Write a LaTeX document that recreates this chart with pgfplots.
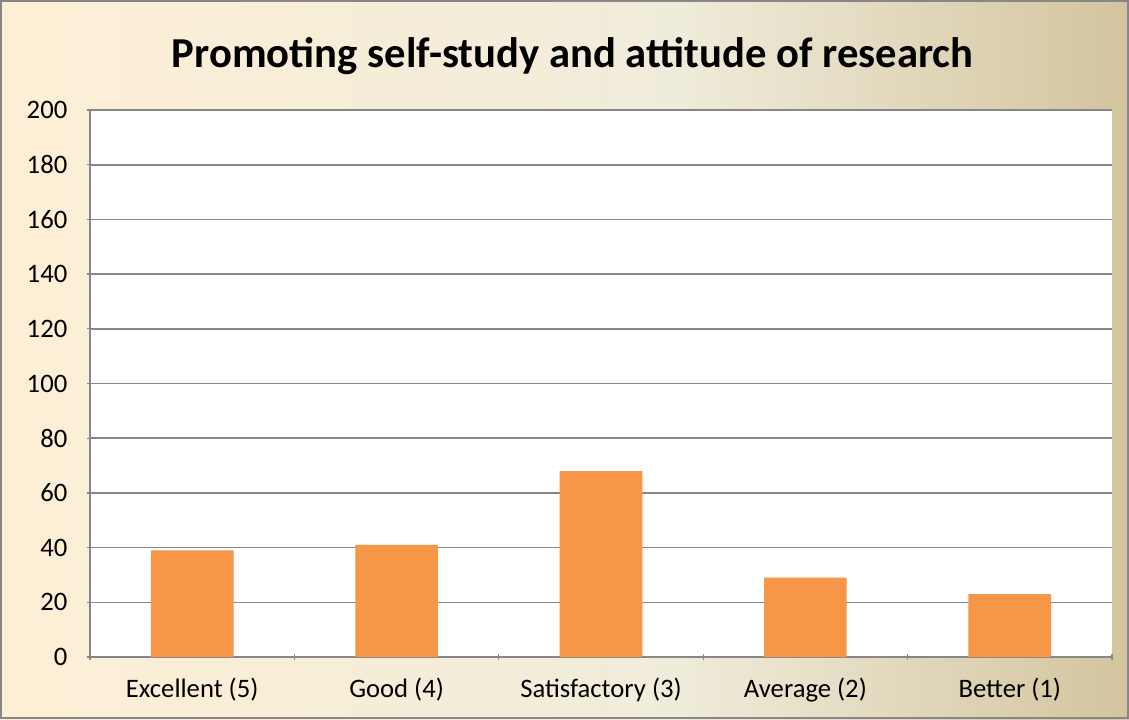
\documentclass[border=0pt]{standalone}
\usepackage{pgfplots}
\pgfplotsset{compat=1.18}
\usepackage{fontspec}
\setmainfont{Carlito}
\definecolor{barorange}{HTML}{F79646}
\definecolor{gridgray}{HTML}{878787}
\definecolor{bgleft}{HTML}{FDEFD6}
\definecolor{bgmid}{HTML}{F0ECDB}
\definecolor{bgright}{HTML}{D3C49E}
% the shaded box spans 25bp..75bp of the shading
\pgfdeclarehorizontalshading{chartbg}{100bp}{%
  color(0bp)=(bgleft); color(25bp)=(bgleft);
  color(37.5bp)=(bgleft!60!bgmid); color(55bp)=(bgmid);
  color(75bp)=(bgright); color(100bp)=(bgright)}

\begin{document}
\begin{tikzpicture}
  % chart background: 1129x719 px at 0.75pt per px
  \shade[shading=chartbg]
    (-67.5pt,-46.5pt) rectangle (779.25pt,492.75pt);
  \draw[gridgray, line width=1.2pt]
    (-66.9pt,-45.9pt) rectangle (778.65pt,492.15pt);
  \node[font=\bfseries\fontsize{32}{36}\selectfont, anchor=center]
    at (362pt,451pt) {Promoting self-study and attitude of research};

  \begin{axis}[
      at={(0,0)}, anchor=south west,
      scale only axis,
      width=766.5pt, height=410.25pt,
      axis background/.style={fill=white},
      ybar, bar width=62pt,
      xmin=-0.5, xmax=4.5,
      ymin=0, ymax=200,
      ytick={0,20,...,200},
      xtick={0,1,2,3,4},
      xticklabels={Excellent (5), Good (4), Satisfactory (3), Average (2), Better (1)},
      minor xtick={-0.5,0.5,1.5,2.5,3.5,4.5},
      major x tick style={draw=none},
      minor tick length=5pt,
      major tick length=5pt,
      tick align=outside,
      tick style={gridgray, line width=1pt},
      axis lines=left,
      axis line style={gridgray, line width=1pt, -},
      ymajorgrids=true,
      grid style={gridgray, line width=1.2pt},
      /pgf/number format/assume math mode=true,
      ticklabel style={font=\fontsize{20}{24}\selectfont, text=black},
      xticklabel style={yshift=-10pt},
      yticklabel style={xshift=-11pt},
    ]
    \addplot[fill=barorange, draw=none] coordinates {
      (0,39) (1,41) (2,68) (3,29) (4,23)
    };
  \end{axis}
\end{tikzpicture}
\end{document}
